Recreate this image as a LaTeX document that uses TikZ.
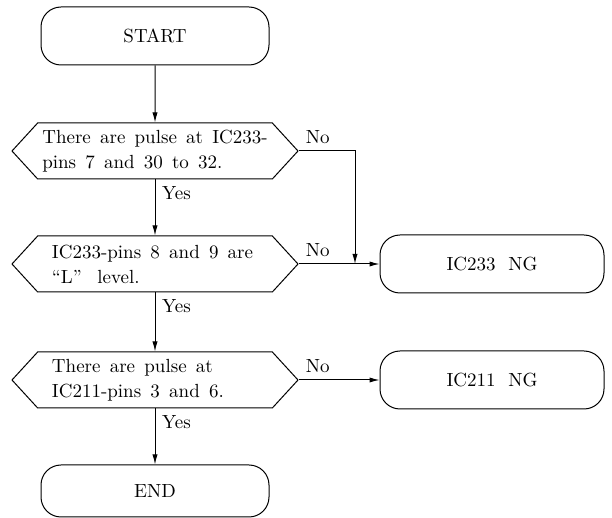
\documentclass[tikz,border=0pt]{standalone}
\usetikzlibrary{shapes.symbols,arrows.meta,positioning}
\newcommand\widespaces{\spaceskip=4.6pt plus 1pt\relax}

\begin{document}
\begin{tikzpicture}[x=0.5pt,y=-0.5pt,font=\fontsize{9.5}{12.5}\selectfont,
        >={Latex[length=5pt,width=2.6pt]},line width=0.5pt,
        term/.style={draw,rounded corners=10pt,minimum width=114pt,minimum height=29pt},
        check/.style={draw,signal,signal to=east and west,signal pointer angle=95,
            minimum width=143pt,minimum height=28pt,align=left,inner sep=1pt,
            execute at begin node=\widespaces}]
    \useasboundingbox (0,0) rectangle (612,518);
    % main line
    \node[term] (start) at (155,36) {START};
    \node[check] (dec1) at (155,151) {There are pulse at IC233-\\pins 7 and 30 to 32.};
    \node[check,text width=103pt] (dec2) at (155,264) {IC233-pins 8 and 9 are\\``L''\,\, level.};
    \node[check,text width=103pt] (dec3) at (155,380) {There are pulse at\\IC211-pins 3 and 6.};
    \node[term,minimum height=26pt] (end) at (155,491) {END};
    % failures
    \node[term,minimum width=112pt] (ng233) at (492,264) {IC233 \ NG};
    \node[term,minimum width=112pt] (ng211) at (492,380) {IC211 \ NG};
    \coordinate (join) at (355,264);

    \draw[->] (start) -- (dec1);
    \draw[->] (dec1.south) node[below right] {Yes} -- (dec2.north);
    \draw[->] (dec2.south) node[below right] {Yes} -- (dec3.north);
    \draw[->] (dec3.south) node[below right] {Yes} -- (end.north);
    \draw[->] (dec1.east) node[above right] {No} -| (join);
    \draw[->] (dec2.east) node[above right] {No} -- (ng233.west);
    \draw[->] (dec3.east) node[above right] {No} -- (ng211.west);
\end{tikzpicture}
\end{document}
